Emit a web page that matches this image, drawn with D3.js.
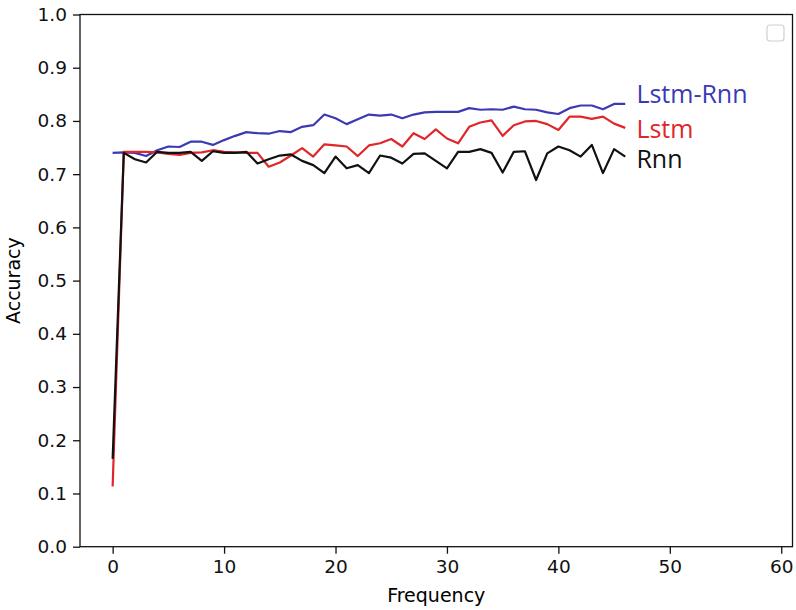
<!DOCTYPE html>
<html>
<head>
<meta charset="utf-8">
<script src="https://cdn.jsdelivr.net/npm/d3@7"></script>
<style>
  body { margin: 0; background: #fff; }
  svg { display: block; }
  .tick text { font-family: "DejaVu Sans", sans-serif; font-size: 18.5px; fill: #111; }
  .tick line { stroke: #111; stroke-width: 1.3; }
  .domain { display: none; }
</style>
</head>
<body>
<svg width="796" height="610"></svg>
<script>
// frequency steps 0..46
var frequency = d3.range(0, 47);

var lstmRnn = [0.740, 0.741, 0.740, 0.734, 0.745, 0.752, 0.751, 0.761, 0.761, 0.755,
               0.764, 0.772, 0.779, 0.777, 0.776, 0.781, 0.779, 0.789, 0.792, 0.812,
               0.805, 0.794, 0.803, 0.812, 0.810, 0.812, 0.805, 0.812, 0.816, 0.817,
               0.817, 0.817, 0.824, 0.821, 0.822, 0.821, 0.827, 0.822, 0.821, 0.816,
               0.813, 0.824, 0.829, 0.829, 0.822, 0.832, 0.832];

var lstm = [0.113, 0.742, 0.742, 0.742, 0.741, 0.738, 0.736, 0.740, 0.741, 0.745,
            0.742, 0.741, 0.740, 0.740, 0.714, 0.722, 0.735, 0.749, 0.733, 0.756,
            0.754, 0.752, 0.734, 0.754, 0.758, 0.766, 0.752, 0.777, 0.766, 0.784,
            0.767, 0.758, 0.789, 0.797, 0.801, 0.772, 0.792, 0.799, 0.800, 0.794,
            0.783, 0.808, 0.808, 0.804, 0.808, 0.795, 0.787];

var rnn = [0.165, 0.740, 0.728, 0.722, 0.742, 0.740, 0.740, 0.742, 0.725, 0.743,
           0.740, 0.740, 0.742, 0.720, 0.728, 0.735, 0.737, 0.725, 0.717, 0.702,
           0.733, 0.711, 0.717, 0.702, 0.735, 0.731, 0.720, 0.738, 0.739, 0.725,
           0.711, 0.742, 0.742, 0.747, 0.740, 0.703, 0.742, 0.743, 0.689, 0.739,
           0.752, 0.745, 0.733, 0.755, 0.702, 0.747, 0.733];

var seriesNames = ['Lstm-Rnn', 'Lstm', 'Rnn'];
var seriesColors = ['#3a3ab4', '#e0262a', '#111111'];
// label anchors in data units (x, accuracy)
var labelAnchors = [[47, 0.833], [47, 0.768], [47, 0.711]];

var xTicks = [0, 10, 20, 30, 40, 50, 60];
var yTicks = [0, 0.1, 0.2, 0.3, 0.4, 0.5, 0.6, 0.7, 0.8, 0.9, 1.0];

var svg = d3.select('svg');
var plot = {l: 80, r: 792.5, t: 14.5, b: 546.7};

var x = d3.scaleLinear().domain([-2.93, 61.01]).range([plot.l, plot.r]);
var y = d3.scaleLinear().domain([0, 1]).range([plot.b, plot.t]);

// axes
svg.append('g')
    .attr('transform', 'translate(0,' + plot.b + ')')
    .call(d3.axisBottom(x).tickValues(xTicks).tickSize(7).tickPadding(6).tickFormat(d3.format('d')));

svg.append('g')
    .attr('transform', 'translate(' + plot.l + ',0)')
    .call(d3.axisLeft(y).tickValues(yTicks).tickSize(7).tickPadding(6).tickFormat(d3.format('.1f')));

// lines
var line = d3.line()
    .x(function(d, i) { return x(frequency[i]); })
    .y(function(d) { return y(d); });

[lstmRnn, lstm, rnn].forEach(function(s, k) {
    svg.append('path')
        .datum(s)
        .attr('d', line)
        .attr('fill', 'none')
        .attr('stroke', seriesColors[k])
        .attr('stroke-width', 2.2)
        .attr('stroke-linejoin', 'round');
});

// spines
svg.append('rect')
    .attr('x', plot.l).attr('y', plot.t)
    .attr('width', plot.r - plot.l).attr('height', plot.b - plot.t)
    .attr('fill', 'none').attr('stroke', '#111').attr('stroke-width', 1.3);

// text labels next to the lines
svg.selectAll('.series-label')
    .data(seriesNames)
    .enter()
    .append('text')
    .attr('class', 'series-label')
    .attr('x', function(d, i) { return x(labelAnchors[i][0]); })
    .attr('y', function(d, i) { return y(labelAnchors[i][1]); })
    .attr('fill', function(d, i) { return seriesColors[i]; })
    .style('font-family', '"Open Sans", sans-serif')
    .style('font-size', '25px')
    .text(function(d) { return d; });

// empty legend box
svg.append('rect')
    .attr('x', 767).attr('y', 25)
    .attr('width', 17).attr('height', 16)
    .attr('rx', 3)
    .attr('fill', '#fff').attr('stroke', '#d0d0d0').attr('stroke-width', 1.2);

// axis titles
svg.append('text')
    .attr('x', (plot.l + plot.r) / 2).attr('y', 602)
    .attr('text-anchor', 'middle')
    .style('font-family', '"DejaVu Sans", sans-serif').style('font-size', '19px')
    .text('Frequency');

svg.append('text')
    .attr('transform', 'translate(20,' + (plot.t + plot.b) / 2 + ') rotate(-90)')
    .attr('text-anchor', 'middle')
    .style('font-family', '"DejaVu Sans", sans-serif').style('font-size', '19px')
    .text('Accuracy');
</script>
</body>
</html>
